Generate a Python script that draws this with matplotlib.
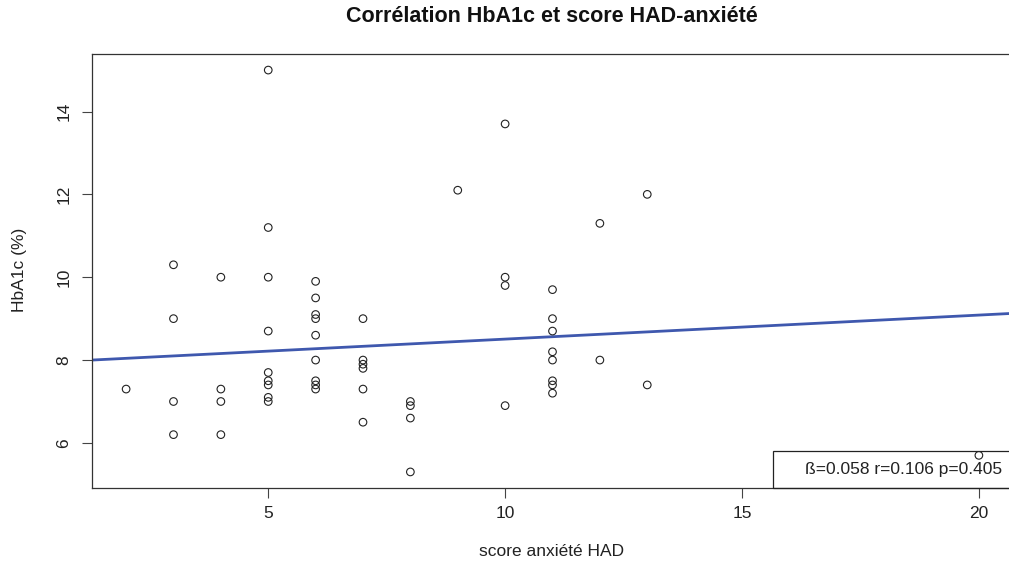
import numpy as np
import matplotlib
matplotlib.use("Agg")
import matplotlib.pyplot as plt
from matplotlib.lines import Line2D

plt.rcParams['font.family'] = ['Liberation Sans', 'DejaVu Sans']

# HAD anxiety score and matching HbA1c (%) per patient
score_had = [2,
             3, 3, 3, 3,
             4, 4, 4, 4,
             5, 5, 5, 5, 5, 5, 5, 5, 5,
             6, 6, 6, 6, 6, 6, 6, 6, 6,
             7, 7, 7, 7, 7, 7,
             8, 8, 8, 8,
             9,
             10, 10, 10, 10,
             11, 11, 11, 11, 11, 11, 11, 11,
             12, 12,
             13, 13,
             20]
hba1c = [7.3,
         10.3, 9.0, 7.0, 6.2,
         10.0, 7.3, 7.0, 6.2,
         15.0, 11.2, 10.0, 8.7, 7.7, 7.5, 7.4, 7.1, 7.0,
         9.9, 9.5, 9.1, 9.0, 8.6, 8.0, 7.5, 7.4, 7.3,
         9.0, 8.0, 7.9, 7.8, 7.3, 6.5,
         7.0, 6.9, 6.6, 5.3,
         12.1,
         13.7, 10.0, 9.8, 6.9,
         9.7, 9.0, 8.7, 8.2, 8.0, 7.5, 7.4, 7.2,
         11.3, 8.0,
         12.0, 7.4,
         5.7]

# linear model: HbA1c = intercept + beta * score
beta = 0.058
intercept = 7.926
r_value = 0.106
p_value = 0.405
stats_label = f"ß={beta:.3f} r={r_value:.3f} p={p_value:.3f}"

title = "Corrélation HbA1c et score HAD-anxiété"
xlabel = "score anxiété HAD"
ylabel = "HbA1c (%)"
xticks = [5, 10, 15, 20]
yticks = [6, 8, 10, 12, 14]

x = np.array(score_had, dtype=float)
y = np.array(hba1c, dtype=float)

# R-style 4% range extension
def padded(v):
    lo, hi = v.min(), v.max()
    d = (hi - lo) * 0.04
    return lo - d, hi + d

xlim = padded(x)
ylim = padded(y)

fig = plt.figure(figsize=(10.09, 5.64), dpi=100)
W, H = 1009, 564
left, right, top, bottom = 92, 1013, 54, 488
ax = fig.add_axes([left / W, 1 - bottom / H, (right - left) / W, (bottom - top) / H])
ax.set_xlim(*xlim)
ax.set_ylim(*ylim)

ax.scatter(x, y, s=30, facecolors='none', edgecolors='#222222', linewidths=0.8, zorder=3)

xs = np.array(xlim)
ax.plot(xs, intercept + beta * xs, color='#3f58ae', lw=2, zorder=2)

fs = 12.5
ax.set_xticks(xticks)
ax.set_yticks(yticks)
ax.tick_params(axis='both', direction='out', length=7, width=0.8,
               colors='#444444', labelcolor='#222222', labelsize=fs)
ax.tick_params(axis='x', pad=6)
ax.tick_params(axis='y', pad=8)
for lab in ax.get_yticklabels():
    lab.set_rotation(90)
    lab.set_va('center')
for s in ax.spines.values():
    s.set_color('#333333')
    s.set_linewidth(0.9)

fig.text(552 / W, 1 - 17 / H, title, ha='center', va='center',
         fontsize=15.5, fontweight='bold', color='#111111')
fig.text(552 / W, 1 - 551 / H, xlabel, ha='center', va='center',
         fontsize=fs, color='#222222')
fig.text(20 / W, 1 - 270 / H, ylabel, ha='center', va='center',
         rotation=90, fontsize=fs, color='#222222')

# transparent stats box, points stay visible through it
blank = Line2D([], [], linestyle='none')
leg = ax.legend([blank], [stats_label], loc='lower right', frameon=True,
                fancybox=False, borderaxespad=0, handlelength=0.85,
                handletextpad=0.4, borderpad=0.62, fontsize=fs,
                labelcolor='#222222')
leg.get_frame().set_edgecolor('#222222')
leg.get_frame().set_linewidth(0.9)
leg.get_frame().set_alpha(None)
leg.get_frame().set_facecolor('none')

fig.savefig("out.png", dpi=100)
